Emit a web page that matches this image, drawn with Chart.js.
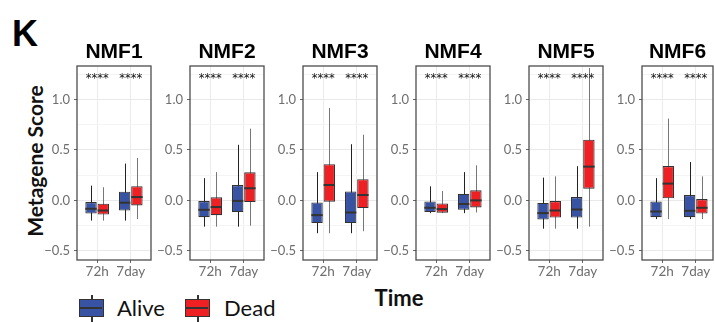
<!DOCTYPE html>
<html>
<head>
<meta charset="utf-8">
<script src="https://cdn.jsdelivr.net/npm/chart.js@4.4.0/dist/chart.umd.min.js"></script>
<style>
  body { margin: 0; background: #fff; }
  #wrap { position: relative; width: 715px; height: 322px; overflow: hidden; background: #fff; }
  #wrap canvas { position: absolute; top: 30px; }
  .txt { position: absolute; line-height: 1; white-space: nowrap; color: #111; }
  .key { position: absolute; top: 295px; width: 25px; height: 27px; }
  .key .wh { position: absolute; left: 12px; top: 0; width: 1.5px; height: 27px; background: #333; }
  .key .bx { position: absolute; left: 0; top: 4px; width: 25px; height: 18px; box-sizing: border-box; border: 1.5px solid #333; }
  .key .md { position: absolute; left: 0; top: 6.5px; width: 22px; height: 2px; background: #333; }
</style>
</head>
<body>
<div id="wrap">
  <div class="txt" style="left:12px;top:13px;font:bold 36px 'Liberation Sans';color:#000">K</div>
  <div class="txt" style="left:34px;top:161px;font:bold 21px Lato;transform:translate(-50%,-50%) rotate(-90deg)">Metagene Score</div>
  <div class="txt" style="left:399px;top:284px;font:bold 22px Lato;transform:translateX(-50%)">Time</div>

  <div class="key" style="left:79px"><div class="wh"></div><div class="bx" style="background:#3953A4"><div class="md"></div></div></div>
  <div class="txt" style="left:117px;top:294px;font:22px Lato">Alive</div>
  <div class="key" style="left:185px"><div class="wh"></div><div class="bx" style="background:#EE2024"><div class="md"></div></div></div>
  <div class="txt" style="left:224px;top:294px;font:22px Lato">Dead</div>
</div>
<script>
// facets, x categories, groups
const panels = ['NMF1', 'NMF2', 'NMF3', 'NMF4', 'NMF5', 'NMF6'];
const times = ['72h', '7day'];
const groups = ['Alive', 'Dead'];
const yTicks = [-0.5, 0, 0.5, 1.0];
const yGridLines = [-0.5, -0.25, 0, 0.25, 0.5, 0.75, 1.0, 1.25];
const signif = ['****', '****'];
const starLevel = 1.22;

// [min, q1, median, q3, max] for 72h and 7day
const nmf1Alive = [[-0.20, -0.13, -0.083, -0.017, 0.146], [-0.20, -0.10, -0.023, 0.086, 0.364]];
const nmf1Dead  = [[-0.20, -0.14, -0.10, -0.033, 0.13], [-0.185, -0.05, 0.033, 0.14, 0.42]];
const nmf2Alive = [[-0.26, -0.166, -0.093, -0.007, 0.22], [-0.26, -0.116, -0.005, 0.152, 0.55]];
const nmf2Dead  = [[-0.26, -0.146, -0.066, 0.03, 0.28], [-0.25, -0.017, 0.12, 0.278, 0.71]];
const nmf3Alive = [[-0.325, -0.225, -0.146, -0.02, 0.28], [-0.325, -0.225, -0.12, 0.089, 0.556]];
const nmf3Dead  = [[-0.325, -0.013, 0.152, 0.358, 0.914], [-0.305, -0.076, 0.053, 0.21, 0.65]];
const nmf4Alive = [[-0.126, -0.116, -0.073, -0.01, 0.139], [-0.126, -0.093, -0.036, 0.063, 0.28]];
const nmf4Dead  = [[-0.126, -0.122, -0.086, -0.03, 0.093], [-0.12, -0.07, 0.0, 0.10, 0.347]];
const nmf5Alive = [[-0.28, -0.19, -0.126, -0.026, 0.225], [-0.28, -0.17, -0.09, 0.033, 0.338]];
const nmf5Dead  = [[-0.28, -0.17, -0.10, -0.007, 0.238], [-0.26, 0.116, 0.334, 0.60, 1.31]];
const nmf6Alive = [[-0.185, -0.166, -0.11, -0.01, 0.22], [-0.185, -0.166, -0.103, 0.053, 0.38]];
const nmf6Dead  = [[-0.185, 0.02, 0.166, 0.34, 0.81], [-0.185, -0.13, -0.073, 0.013, 0.238]];

const aliveBoxes = [nmf1Alive, nmf2Alive, nmf3Alive, nmf4Alive, nmf5Alive, nmf6Alive];
const deadBoxes = [nmf1Dead, nmf2Dead, nmf3Dead, nmf4Dead, nmf5Dead, nmf6Dead];

const aliveColor = '#3953A4';
const deadColor = '#EE2024';

Chart.defaults.font.family = 'Lato';

function isMajor(v) {
  return yTicks.some(t => Math.abs(t - v) < 1e-6);
}
function fmt(v) {
  return v < 0 ? '\u2212' + Math.abs(v).toFixed(1) : v.toFixed(1);
}

// whiskers under the boxes, medians + stars on top, panel frame + strip title last
const boxPlot = {
  id: 'boxPlot',
  beforeDatasetsDraw(chart) {
    const ctx = chart.ctx, y = chart.scales.y;
    chart.data.datasets.forEach((ds, d) => {
      chart.getDatasetMeta(d).data.forEach((bar, i) => {
        const s = ds.stats[i];
        const x = Math.round(bar.x) + 0.5;
        ctx.save();
        ctx.strokeStyle = ds.whiskerColor;
        ctx.lineWidth = 1;
        ctx.beginPath();
        ctx.moveTo(x, y.getPixelForValue(s[0]));
        ctx.lineTo(x, y.getPixelForValue(s[4]));
        ctx.stroke();
        ctx.restore();
      });
    });
  },
  afterDatasetsDraw(chart) {
    const ctx = chart.ctx, y = chart.scales.y, xs = chart.scales.x;
    chart.data.datasets.forEach((ds, d) => {
      chart.getDatasetMeta(d).data.forEach((bar, i) => {
        const s = ds.stats[i];
        const w = bar.width;
        const py = y.getPixelForValue(s[2]);
        ctx.save();
        ctx.strokeStyle = '#333';
        ctx.lineWidth = 2;
        ctx.beginPath();
        ctx.moveTo(bar.x - w / 2, py);
        ctx.lineTo(bar.x + w / 2, py);
        ctx.stroke();
        ctx.restore();
      });
    });
    ctx.save();
    ctx.fillStyle = '#111';
    ctx.font = '11.5px "DejaVu Sans"';
    ctx.textAlign = 'center';
    ctx.textBaseline = 'middle';
    signif.forEach((s, i) => {
      ctx.fillText(s, xs.getPixelForValue(i), y.getPixelForValue(starLevel) + 2);
    });
    ctx.restore();
  },
  afterDraw(chart) {
    const a = chart.chartArea, ctx = chart.ctx;
    ctx.save();
    ctx.strokeStyle = '#4d4d4d';
    ctx.lineWidth = 1.3;
    ctx.strokeRect(a.left, a.top, a.right - a.left, a.bottom - a.top);
    ctx.fillStyle = '#000';
    ctx.font = 'bold 21px "Liberation Sans"';
    ctx.textAlign = 'center';
    ctx.textBaseline = 'alphabetic';
    ctx.fillText(chart.options.panelTitle, (a.left + a.right) / 2, a.top - 8);
    ctx.restore();
  }
};

const wrap = document.getElementById('wrap');
const panelLeft = [77, 190, 303, 416, 529, 642];
const panelWidth = [74, 74, 74, 74, 74, 71];
const pxPerCategory = 33.6;

panels.forEach((name, p) => {
  const cv = document.createElement('canvas');
  cv.width = 150;
  cv.height = 250;
  cv.style.left = (panelLeft[p] - 38) + 'px';
  wrap.appendChild(cv);

  const makeSet = (label, stats, color, whisker) => ({
    label: label,
    data: stats.map((s, i) => ({ x: i, y: [s[1], s[3]] })),
    stats: stats,
    backgroundColor: color,
    borderColor: '#333',
    borderWidth: 1.1,
    borderSkipped: false,
    whiskerColor: whisker,
    categoryPercentage: 0.73,
    barPercentage: 0.93
  });

  new Chart(cv, {
    type: 'bar',
    data: {
      datasets: [
        makeSet(groups[0], aliveBoxes[p], aliveColor, '#222'),
        makeSet(groups[1], deadBoxes[p], deadColor, '#777')
      ]
    },
    options: {
      responsive: false,
      animation: false,
      events: [],
      panelTitle: name,
      layout: { padding: { top: 36, right: 150 - 38 - panelWidth[p] } },
      plugins: {
        legend: { display: false },
        tooltip: { enabled: false },
        title: { display: false }
      },
      scales: {
        x: {
          type: 'linear',
          min: -0.6,
          max: -0.6 + panelWidth[p] / pxPerCategory,
          bounds: 'data',
          offset: false,
          afterBuildTicks: s => { s.ticks = times.map((t, i) => ({ value: i })); },
          afterFit: s => { s.height = 20; },
          ticks: {
            autoSkip: false,
            maxRotation: 0,
            padding: 1,
            color: '#6e6e6e',
            font: { size: 13.5 },
            callback: v => times[v]
          },
          grid: { offset: false, color: '#ebebeb', lineWidth: 1, tickColor: '#666', tickLength: 3 },
          border: { display: false }
        },
        y: {
          min: -0.59,
          max: 1.33,
          bounds: 'data',
          afterBuildTicks: s => { s.ticks = yGridLines.map(v => ({ value: v })); },
          afterFit: s => { s.width = 38; },
          ticks: {
            autoSkip: false,
            padding: 4,
            color: '#6e6e6e',
            font: { size: 13 },
            callback: v => isMajor(v) ? fmt(v) : ''
          },
          grid: {
            color: c => isMajor(c.tick.value) ? '#e9e9e9' : '#f4f4f4',
            lineWidth: 1,
            tickColor: c => isMajor(c.tick.value) ? '#666' : 'rgba(0,0,0,0)',
            tickLength: 3
          },
          border: { display: false }
        }
      }
    },
    plugins: [boxPlot]
  });
});
</script>
</body>
</html>
